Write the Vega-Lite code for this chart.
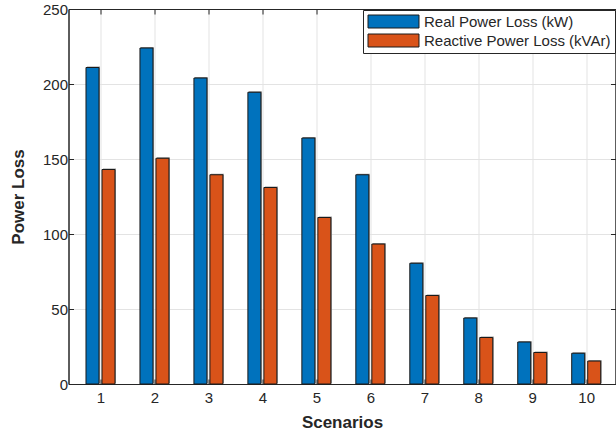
{
  "$schema": "https://vega.github.io/schema/vega-lite/v6.json",
  "width": 547,
  "height": 375,
  "autosize": {"type": "none"},
  "padding": {"left": 68.5, "top": 9, "right": 0, "bottom": 48},
  "background": "white",
  "data": {"values": [
    {"scenario": 1, "series": "Real Power Loss (kW)", "value": 211},
    {"scenario": 1, "series": "Reactive Power Loss (kVAr)", "value": 143},
    {"scenario": 2, "series": "Real Power Loss (kW)", "value": 224},
    {"scenario": 2, "series": "Reactive Power Loss (kVAr)", "value": 150.5},
    {"scenario": 3, "series": "Real Power Loss (kW)", "value": 204},
    {"scenario": 3, "series": "Reactive Power Loss (kVAr)", "value": 139.5},
    {"scenario": 4, "series": "Real Power Loss (kW)", "value": 194.5},
    {"scenario": 4, "series": "Reactive Power Loss (kVAr)", "value": 131},
    {"scenario": 5, "series": "Real Power Loss (kW)", "value": 164},
    {"scenario": 5, "series": "Reactive Power Loss (kVAr)", "value": 111},
    {"scenario": 6, "series": "Real Power Loss (kW)", "value": 139.5},
    {"scenario": 6, "series": "Reactive Power Loss (kVAr)", "value": 93.3},
    {"scenario": 7, "series": "Real Power Loss (kW)", "value": 80.5},
    {"scenario": 7, "series": "Reactive Power Loss (kVAr)", "value": 59},
    {"scenario": 8, "series": "Real Power Loss (kW)", "value": 44},
    {"scenario": 8, "series": "Reactive Power Loss (kVAr)", "value": 31},
    {"scenario": 9, "series": "Real Power Loss (kW)", "value": 28},
    {"scenario": 9, "series": "Reactive Power Loss (kVAr)", "value": 21},
    {"scenario": 10, "series": "Real Power Loss (kW)", "value": 20.5},
    {"scenario": 10, "series": "Reactive Power Loss (kVAr)", "value": 15.3}
  ]},
  "layer": [
    {
      "transform": [{"filter": "datum.series === 'Real Power Loss (kW)'"}],
      "mark": {"type": "bar", "width": 13, "xOffset": -7, "yOffset": -1, "color": "#9a9a9a"},
      "encoding": {
        "x": {"field": "scenario", "type": "quantitative",
          "scale": {"domain": [0.5, 10.45], "nice": false, "zero": false},
          "axis": {"orient": "bottom", "values": [1,2,3,4,5,6,7,8,9,10], "format": "d", "title": "Scenarios", "grid": true, "tickSize": -5, "labelPadding": 11, "titlePadding": 9}},
        "y": {"field": "value", "type": "quantitative",
          "scale": {"domain": [0, 250], "nice": false},
          "axis": {"orient": "left", "values": [0, 50, 100, 150, 200, 250], "title": "Power Loss", "grid": true, "tickSize": -5, "labelPadding": 6, "titlePadding": 15}}
      }
    },
    {
      "transform": [{"filter": "datum.series === 'Reactive Power Loss (kVAr)'"}],
      "mark": {"type": "bar", "width": 13, "xOffset": 9, "yOffset": -1, "color": "#9a9a9a"},
      "encoding": {
        "x": {"field": "scenario", "type": "quantitative", "scale": {"domain": [0.5, 10.45], "nice": false, "zero": false}, "axis": null},
        "y": {"field": "value", "type": "quantitative", "scale": {"domain": [0, 250], "nice": false}, "axis": null}
      }
    },
    {
      "transform": [{"filter": "datum.series === 'Real Power Loss (kW)'"}],
      "mark": {"type": "bar", "width": 13, "xOffset": -8, "stroke": "#1a1a1a", "strokeWidth": 1},
      "encoding": {
        "x": {"field": "scenario", "type": "quantitative", "scale": {"domain": [0.5, 10.45], "nice": false, "zero": false}, "axis": null},
        "y": {"field": "value", "type": "quantitative", "scale": {"domain": [0, 250], "nice": false}, "axis": null},
        "color": {"field": "series", "type": "nominal",
          "scale": {"domain": ["Real Power Loss (kW)", "Reactive Power Loss (kVAr)"], "range": ["#0072BD", "#D95319"]},
          "legend": {"orient": "none", "legendX": 294.5, "legendY": 1, "title": null}}
      }
    },
    {
      "transform": [{"filter": "datum.series === 'Reactive Power Loss (kVAr)'"}],
      "mark": {"type": "bar", "width": 13, "xOffset": 8, "stroke": "#1a1a1a", "strokeWidth": 1},
      "encoding": {
        "x": {"field": "scenario", "type": "quantitative", "scale": {"domain": [0.5, 10.45], "nice": false, "zero": false}, "axis": null},
        "y": {"field": "value", "type": "quantitative", "scale": {"domain": [0, 250], "nice": false}, "axis": null},
        "color": {"field": "series", "type": "nominal"}
      }
    },
    {
      "mark": {"type": "bar", "opacity": 0, "width": 1},
      "encoding": {
        "x": {"field": "scenario", "type": "quantitative", "scale": {"domain": [0.5, 10.45], "nice": false, "zero": false},
          "axis": {"orient": "top", "values": [1,2,3,4,5,6,7,8,9,10], "labels": false, "title": null, "grid": false, "tickSize": -5}},
        "y": {"field": "value", "type": "quantitative", "scale": {"domain": [0, 250], "nice": false},
          "axis": {"orient": "right", "values": [0, 50, 100, 150, 200, 250], "labels": false, "title": null, "grid": false, "tickSize": -5}}
      }
    }
  ],
  "resolve": {"axis": {"x": "independent", "y": "independent"}},
  "config": {
    "view": {"stroke": "#262626", "strokeWidth": 1},
    "font": "Liberation Sans",
    "axis": {
      "domainColor": "#262626", "tickColor": "#262626", "gridColor": "#e3e3e3", "gridWidth": 1,
      "labelColor": "#262626", "labelFont": "Liberation Sans", "labelFontSize": 15,
      "titleColor": "#262626", "titleFont": "Liberation Sans", "titleFontSize": 17, "titleFontWeight": "bold"
    },
    "legend": {
      "symbolType": "M-1,-1H6.846V1H-1Z",
      "symbolSize": 169,
      "symbolStrokeColor": "#1a1a1a",
      "symbolStrokeWidth": 1,
      "symbolOpacity": 1,
      "labelOffset": 42,
      "labelFont": "Liberation Sans",
      "labelFontSize": 15,
      "labelColor": "#262626",
      "labelLimit": 400,
      "rowPadding": 2,
      "padding": 4,
      "strokeColor": "#262626",
      "fillColor": "white"
    }
  }
}
